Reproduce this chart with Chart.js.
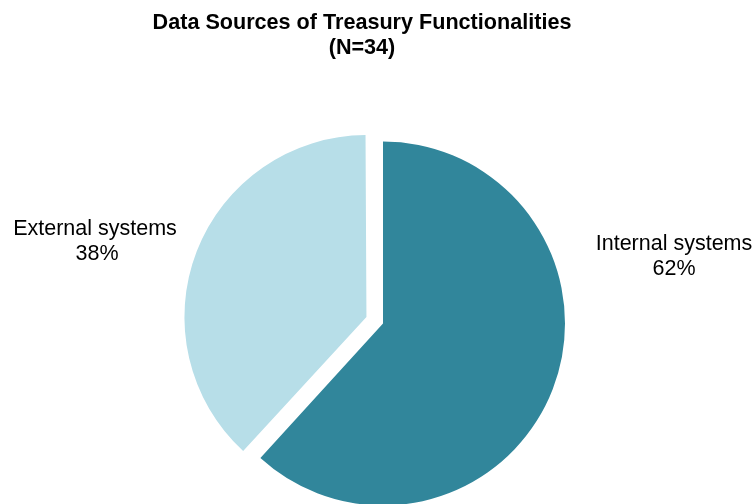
<!DOCTYPE html>
<html>
<head>
<meta charset="utf-8">
<script src="https://cdn.jsdelivr.net/npm/chart.js@4.4.0/dist/chart.umd.min.js"></script>
<style>
  html, body { margin: 0; padding: 0; background: #ffffff; }
  #wrap { width: 753px; height: 504px; position: relative; }
</style>
</head>
<body>
<div id="wrap"><canvas id="c" width="753" height="504"></canvas></div>
<script>
const categories = ['Internal systems', 'External systems'];
const counts = [21, 13];
const titleLines = ['Data Sources of Treasury Functionalities', '(N=34)'];

const colors = ['#31869B', '#B7DEE8'];
const FONT = '"Liberation Sans", Arial, sans-serif';

const total = counts.reduce((a, b) => a + b, 0);
const percents = counts.map(v => Math.round(v / total * 100) + '%');

// Keep exploded slice at the same radius as the others (Chart.js enlarges it slightly)
const radiusFix = {
  id: 'radiusFix',
  afterDatasetUpdate(chart) {
    const meta = chart.getDatasetMeta(0);
    meta.data.forEach(arc => {
      const off = (arc.options.offset || 0) / 4;
      const circ = arc.circumference;
      const fix = 1 - Math.sin(Math.min(Math.PI, circ || 0));
      arc.outerRadius = arc.outerRadius - off * fix;
    });
  }
};

const textPlugin = {
  id: 'textPlugin',
  afterDraw(chart, args, opts) {
    const ctx = chart.ctx;
    ctx.save();
    ctx.fillStyle = '#000';
    ctx.textAlign = 'center';
    ctx.textBaseline = 'alphabetic';
    ctx.font = 'bold 21.6px ' + FONT;
    titleLines.forEach((t, i) => ctx.fillText(t, opts.titleX, opts.titleY + i * 25));
    ctx.font = '21.5px ' + FONT;
    categories.forEach((c, i) => {
      const p = opts.labelPos[i];
      ctx.fillText(c, p[0], p[1]);
      ctx.fillText(percents[i], p[0] + p[2], p[1] + 25);
    });
    ctx.restore();
  }
};

new Chart(document.getElementById('c'), {
  type: 'pie',
  data: {
    labels: categories,
    datasets: [{
      data: counts,
      backgroundColor: colors,
      borderWidth: 0,
      offset: [0, 71],
      hoverOffset: 0,
      clip: false
    }]
  },
  options: {
    responsive: false,
    animation: false,
    radius: 182,
    layout: { padding: { left: 13, right: 0, top: 143, bottom: 0 } },
    plugins: {
      legend: { display: false },
      title: { display: false },
      tooltip: { enabled: false },
      textPlugin: {
        titleX: 362,
        titleY: 29,
        labelPos: [[674, 250, 0], [95, 235, 2]]
      }
    },
    events: []
  },
  plugins: [radiusFix, textPlugin]
});
</script>
</body>
</html>
